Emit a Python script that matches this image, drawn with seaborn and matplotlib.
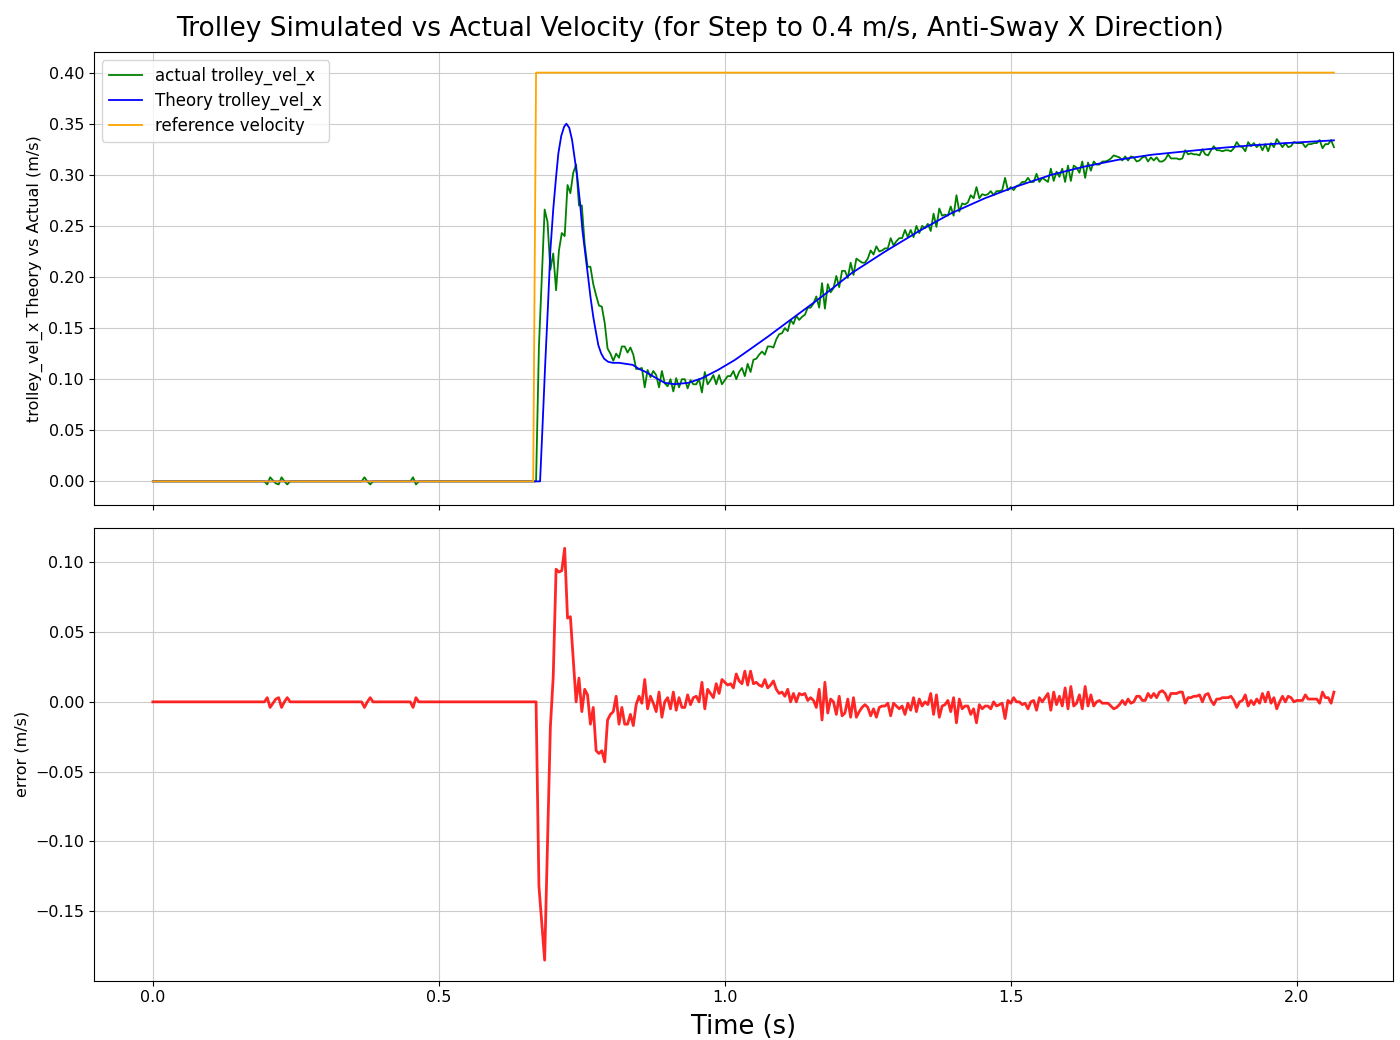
import numpy as np
import seaborn as sns
from matplotlib import pyplot as plt

# time before the step (sparse, only where blips are)
pre_t = [0.000, 0.195, 0.200, 0.205, 0.210, 0.215, 0.220, 0.225, 0.230, 0.235, 0.240,
         0.365, 0.370, 0.375, 0.380, 0.385, 0.450, 0.455, 0.460, 0.465]
actual_pre = [0.000, 0.000, -0.003, 0.004, 0.001, -0.002, -0.003, 0.004, 0.000, -0.003, 0.000,
              0.000, 0.004, 0.000, -0.003, 0.000, 0.000, 0.004, -0.003, 0.000]
error_pre = [0.000, 0.000, 0.003, -0.004, -0.001, 0.002, 0.003, -0.004, 0.000, 0.003, 0.000,
             0.000, -0.004, 0.000, 0.003, 0.000, 0.000, -0.004, 0.003, 0.000]

# samples after the step, every 0.005 s from 0.670 s
T_START = 0.670
DT = 0.005

actual_vel = [
    0.000, 0.132, 0.200, 0.266, 0.254, 0.207, 0.223, 0.187, 0.226, 0.243,
    0.240, 0.290, 0.282, 0.302, 0.310, 0.270, 0.270, 0.232, 0.210, 0.210,
    0.193, 0.182, 0.172, 0.171, 0.155, 0.130, 0.125, 0.118, 0.125, 0.121,
    0.132, 0.132, 0.126, 0.131, 0.124, 0.110, 0.110, 0.111, 0.092, 0.109,
    0.102, 0.108, 0.104, 0.092, 0.108, 0.096, 0.093, 0.100, 0.088, 0.101,
    0.092, 0.100, 0.100, 0.091, 0.099, 0.095, 0.095, 0.100, 0.087, 0.107,
    0.095, 0.099, 0.104, 0.095, 0.104, 0.095, 0.099, 0.103, 0.103, 0.108,
    0.100, 0.107, 0.111, 0.103, 0.115, 0.107, 0.119, 0.120, 0.124, 0.127,
    0.124, 0.132, 0.132, 0.131, 0.139, 0.144, 0.145, 0.150, 0.147, 0.158,
    0.154, 0.162, 0.158, 0.161, 0.163, 0.170, 0.170, 0.174, 0.181, 0.170,
    0.194, 0.169, 0.193, 0.185, 0.189, 0.201, 0.190, 0.206, 0.206, 0.199,
    0.214, 0.202, 0.218, 0.216, 0.214, 0.214, 0.218, 0.226, 0.222, 0.230,
    0.225, 0.226, 0.228, 0.228, 0.238, 0.231, 0.235, 0.238, 0.238, 0.246,
    0.239, 0.246, 0.239, 0.250, 0.243, 0.250, 0.248, 0.252, 0.245, 0.262,
    0.249, 0.267, 0.260, 0.261, 0.260, 0.269, 0.260, 0.280, 0.264, 0.272,
    0.271, 0.273, 0.280, 0.277, 0.288, 0.277, 0.281, 0.280, 0.281, 0.284,
    0.280, 0.284, 0.284, 0.285, 0.297, 0.285, 0.288, 0.285, 0.289, 0.290,
    0.293, 0.293, 0.297, 0.293, 0.293, 0.301, 0.293, 0.297, 0.295, 0.293,
    0.306, 0.294, 0.303, 0.298, 0.306, 0.293, 0.309, 0.294, 0.309, 0.307,
    0.302, 0.313, 0.297, 0.312, 0.304, 0.313, 0.310, 0.310, 0.313, 0.313,
    0.314, 0.316, 0.319, 0.318, 0.317, 0.314, 0.318, 0.314, 0.318, 0.317,
    0.313, 0.314, 0.317, 0.318, 0.313, 0.317, 0.314, 0.317, 0.313, 0.313,
    0.315, 0.320, 0.316, 0.316, 0.316, 0.315, 0.316, 0.324, 0.320, 0.321,
    0.320, 0.320, 0.319, 0.325, 0.320, 0.319, 0.324, 0.328, 0.324, 0.324,
    0.323, 0.324, 0.324, 0.323, 0.326, 0.332, 0.328, 0.327, 0.323, 0.332,
    0.328, 0.331, 0.327, 0.330, 0.324, 0.330, 0.323, 0.331, 0.327, 0.335,
    0.331, 0.327, 0.331, 0.327, 0.328, 0.332, 0.331, 0.331, 0.331, 0.327,
    0.330, 0.330, 0.331, 0.331, 0.334, 0.326, 0.330, 0.330, 0.334, 0.327,
]

error_vel = [
    0.000, -0.132, -0.158, -0.185, -0.100, -0.018, 0.018, 0.095, 0.093, 0.094,
    0.110, 0.060, 0.061, 0.030, 0.000, 0.017, -0.007, 0.009, 0.005, -0.016,
    -0.004, -0.035, -0.037, -0.035, -0.043, -0.013, -0.009, -0.007, 0.004, -0.016,
    -0.004, -0.016, -0.016, -0.009, -0.017, -0.002, 0.004, -0.001, 0.016, -0.005,
    0.004, -0.001, -0.007, 0.007, -0.011, 0.000, 0.003, -0.005, 0.007, -0.006,
    0.003, -0.004, -0.004, 0.005, -0.002, 0.003, 0.004, 0.000, 0.014, -0.005,
    0.009, 0.006, 0.003, 0.013, 0.006, 0.016, 0.014, 0.012, 0.013, 0.010,
    0.020, 0.015, 0.013, 0.022, 0.012, 0.022, 0.013, 0.014, 0.012, 0.011,
    0.016, 0.010, 0.012, 0.015, 0.009, 0.006, 0.007, 0.004, 0.009, 0.000,
    0.006, 0.000, 0.006, 0.005, 0.006, 0.001, 0.003, 0.001, -0.004, 0.009,
    -0.013, 0.014, -0.008, 0.002, 0.000, -0.009, 0.004, -0.010, -0.008, 0.002,
    -0.011, 0.003, -0.011, -0.007, -0.004, -0.002, -0.004, -0.010, -0.005, -0.011,
    -0.004, -0.003, -0.003, -0.001, -0.010, -0.001, -0.003, -0.005, -0.003, -0.009,
    -0.001, -0.006, 0.003, -0.007, 0.002, -0.003, 0.000, -0.002, 0.006, -0.009,
    0.005, -0.011, -0.003, -0.002, 0.001, -0.007, 0.003, -0.015, 0.002, -0.005,
    -0.003, -0.003, -0.009, -0.005, -0.015, -0.002, -0.005, -0.003, -0.003, -0.005,
    0.000, -0.003, -0.002, -0.001, -0.012, 0.001, -0.001, 0.003, 0.000, 0.000,
    -0.002, -0.001, -0.005, 0.000, 0.001, -0.006, 0.003, 0.000, 0.003, 0.006,
    -0.006, 0.007, -0.002, 0.004, -0.003, 0.010, -0.005, 0.011, -0.003, -0.001,
    0.005, -0.005, 0.011, -0.003, 0.005, -0.003, 0.000, 0.001, -0.001, -0.001,
    -0.001, -0.003, -0.005, -0.004, -0.002, 0.001, -0.002, 0.002, -0.001, 0.000,
    0.004, 0.004, 0.001, 0.001, 0.006, 0.003, 0.006, 0.003, 0.007, 0.008,
    0.006, 0.001, 0.006, 0.006, 0.006, 0.007, 0.007, -0.001, 0.003, 0.003,
    0.004, 0.004, 0.005, 0.000, 0.005, 0.006, 0.001, -0.002, 0.002, 0.002,
    0.003, 0.003, 0.003, 0.004, 0.001, -0.004, 0.000, 0.001, 0.005, -0.003,
    0.001, -0.002, 0.002, -0.001, 0.006, 0.000, 0.007, -0.001, 0.003, -0.005,
    0.000, 0.004, 0.000, 0.004, 0.003, 0.000, 0.001, 0.001, 0.001, 0.005,
    0.002, 0.002, 0.002, 0.002, -0.001, 0.007, 0.003, 0.003, -0.001, 0.007,
]

# model response (smooth), read at its own points
theory_t = [0.000, 0.677, 0.681, 0.686, 0.691, 0.695, 0.700, 0.705, 0.709, 0.714,
            0.719, 0.723, 0.728, 0.733, 0.737, 0.742, 0.747, 0.751, 0.756, 0.761,
            0.765, 0.770, 0.775, 0.779, 0.784, 0.789, 0.796, 0.804, 0.815, 0.827,
            0.839, 0.850, 0.862, 0.877, 0.895, 0.912, 0.936, 0.959, 0.988, 1.017,
            1.046, 1.075, 1.105, 1.134, 1.163, 1.192, 1.221, 1.280, 1.338, 1.396,
            1.455, 1.501, 1.571, 1.630, 1.688, 1.746, 1.805, 1.863, 1.921, 1.980,
            2.065]
theory_vel = [0.000, 0.000, 0.050, 0.115, 0.174, 0.226, 0.266, 0.298, 0.321, 0.338,
              0.347, 0.350, 0.346, 0.334, 0.318, 0.298, 0.272, 0.246, 0.223, 0.200,
              0.181, 0.161, 0.145, 0.133, 0.125, 0.120, 0.117, 0.116, 0.116, 0.115,
              0.114, 0.110, 0.107, 0.102, 0.0964, 0.0951, 0.0964, 0.1007, 0.109, 0.1186,
              0.130, 0.1415, 0.154, 0.166, 0.178, 0.1905, 0.2035, 0.2248, 0.2444, 0.2624,
              0.2771, 0.2869, 0.300, 0.3082, 0.3147, 0.3196, 0.3229, 0.3261, 0.3288, 0.331,
              0.3337]

ref_t = [0.000, 0.665, 0.670, 2.065]
ref_vel = [0.0, 0.0, 0.4, 0.4]

t_dense = np.round(T_START + DT * np.arange(len(actual_vel)), 3)
t_act = np.concatenate([pre_t, t_dense])
v_act = np.concatenate([actual_pre, actual_vel])
v_err = np.concatenate([error_pre, error_vel])

plt.rcParams['xtick.labelsize'] = 11.5
plt.rcParams['ytick.labelsize'] = 11.5

fig, (ax0, ax1) = plt.subplots(nrows=2, figsize=(14, 10.4), sharex=True)
plt.subplots_adjust(left=0.067, right=0.995, top=0.95, bottom=0.057, hspace=0.05)

sns.lineplot(x=t_act, y=v_act, ax=ax0, color='green', linewidth=1.3,
             label='actual trolley_vel_x', sort=False, estimator=None)
sns.lineplot(x=theory_t, y=theory_vel, ax=ax0, color='blue', linewidth=1.3,
             label='Theory trolley_vel_x', sort=False, estimator=None)
sns.lineplot(x=ref_t, y=ref_vel, ax=ax0, color='orange', linewidth=1.3,
             label='reference velocity', sort=False, estimator=None)
ax0.set_ylabel('trolley_vel_x Theory vs Actual (m/s)', fontsize=11.5)
ax0.legend(loc='upper left', fontsize=12, labelspacing=0.4)
ax0.grid(True, color='#cccccc')

sns.lineplot(x=t_act, y=v_err, ax=ax1, color='red', alpha=0.85, linewidth=2,
             sort=False, estimator=None)
ax1.set_ylabel('error (m/s)', fontsize=11.5)
ax1.set_xlabel('Time (s)', fontsize=18.5, labelpad=6)
ax1.grid(True, color='#cccccc')

fig.suptitle('Trolley Simulated vs Actual Velocity (for Step to 0.4 m/s, Anti-Sway X Direction)',
             fontsize=19, y=0.985)

plt.savefig('out.png', dpi=100)
